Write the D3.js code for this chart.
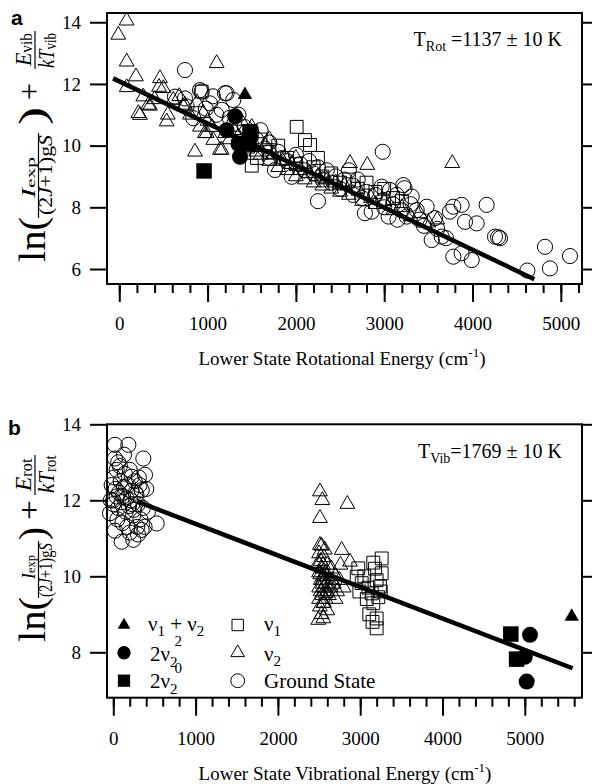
<!DOCTYPE html>
<html>
<head>
<meta charset="utf-8">
<script src="https://cdn.jsdelivr.net/npm/d3@7"></script>
<style>
  body { margin: 0; background: #fff; }
  svg { display: block; }
  svg text { font-family: "Liberation Serif", "Times New Roman", serif; fill: #000; }
  svg text.letter { font-family: "Liberation Sans", Arial, sans-serif; font-weight: bold; }
</style>
</head>
<body>
<div id="chart"></div>
<script>
const W = 592, H = 784

// ---- panel a: ln(...) + Evib/kTvib vs lower state rotational energy (cm-1)
const groundA = [
  [744,12.45],[914,11.8],[1216,11.7],[631,11.59],[763,11.27],[838,10.89],[1027,11.37],[1160,11.16],
  [1291,11.48],[933,11.75],[1197,11.7],[744,11.53],[1060,11.6],[1100,11.0],[1250,10.9],[980,11.2],
  [1350,11.0],[1300,10.7],[1420,10.6],[1480,10.3],[1550,10.2],[1600,10.5],[1650,9.9],[1700,10.1],
  [1763,9.21],[1800,9.8],[1850,9.6],[1900,9.5],[1952,8.99],[2000,9.7],[2050,9.4],[2100,9.2],
  [2150,9.5],[2200,9.1],[2250,9.3],[2300,8.9],[2350,9.2],[2400,8.8],[2450,9.0],[2500,8.6],
  [2550,8.9],[2600,9.2],[2650,8.7],[2700,8.9],[1700,9.6],[2250,8.2],[2782,7.81],[2858,7.86],
  [2990,8.24],[3066,8.56],[3141,8.4],[2971,8.67],[3216,8.72],[3230,8.62],[3311,8.35],[3783,8.02],
  [3877,8.08],[3745,7.86],[3915,7.53],[4047,7.48],[4160,8.08],[4255,7.05],[4311,7.0],[4290,7.03],
  [4821,6.72],[5104,6.42],[4877,6.02],[4621,5.95],[3538,6.94],[3651,7.05],[3783,6.4],[3877,6.51],
  [3991,6.29],[3481,8.02],[3575,7.65],[3255,7.7],[3368,7.91],[2983,9.8],[2900,8.4],[3000,8.0],
  [3100,8.1],[3200,7.9],[3400,7.6],[3450,7.4],[3300,8.1],[3600,7.3],[3700,7.0],[2800,8.5],
  [2750,8.3],[2650,8.4],[3050,7.7],[3150,7.6]
]
const nu2A = [
  [83,14.05],[-11,13.59],[84,12.72],[189,12.24],[84,11.89],[272,11.59],[348,11.29],[234,10.99],
  [461,12.18],[498,11.86],[537,10.78],[857,9.8],[1103,12.67],[725,11.27],[611,11.48],[951,11.05],
  [1140,9.86],[990,10.4],[914,10.61],[1065,10.18],[216,11.05],[329,11.32],[744,11.32],[970,10.4],
  [1160,9.86],[450,11.9],[400,11.5],[550,11.0],[680,11.6],[800,11.0],[880,11.4],[1000,10.8],
  [1050,10.6],[1200,10.4],[1250,10.2],[1300,10.5],[1350,10.3],[1400,10.1],[1450,9.9],[1500,10.2],
  [1550,9.8],[1600,9.7],[1650,10.0],[1700,9.5],[1750,9.7],[1800,9.3],[1850,9.5],[1900,9.2],
  [1950,9.4],[2000,9.0],[2050,9.2],[2100,8.9],[2150,9.1],[2200,8.8],[2250,9.0],[2300,8.7],
  [2350,8.9],[2400,8.6],[2450,8.8],[2500,8.5],[2613,9.43],[2809,9.37],[3771,9.43],[2550,8.7],
  [2600,8.4],[2700,8.6],[2750,8.2],[2850,8.3],[2900,8.1],[3000,8.2],[3100,7.9],[3200,8.0],
  [3300,7.7],[3400,7.8],[3500,7.5],[3600,7.6],[1380,10.8],[1500,10.6],[1700,10.2],[2000,9.6]
]
const nu1A = [
  [933,11.75],[2009,10.61],[2103,10.18],[2160,10.02],[1500,10.4],[1600,10.2],[1700,9.8],[1800,10.0],
  [1900,9.6],[2000,9.4],[2200,9.3],[2300,9.0],[2400,9.1],[2500,8.8],[2600,8.9],[2700,8.6],
  [2800,8.8],[2900,8.5],[3000,8.6],[3100,8.3],[3200,8.2],[1400,10.1],[2250,9.6],[1500,9.35],[1560,9.6]
]
const comboA = [[1423,11.65]]                                       // v1 + v2
const twoNu2cA = [[1311,10.95],[1216,10.5],[1367,9.64],[1350,10.05]] // 2v2 (l=2)
const twoNu2sA = [[960,9.18],[1480,10.45],[1470,10.05]]              // 2v2 (l=0)
const fitA = [[-70,12.18],[4700,5.67]]

// ---- panel b: ln(...) + Erot/kTrot vs lower state vibrational energy (cm-1)
const groundB = [
  [20,13.46],[183,13.46],[365,13.1],[385,12.67],[20,13.1],[41,12.8],[224,12.62],[345,12.27],
  [527,11.39],[345,11.22],[243,10.96],[102,10.91],[20,11.2],[-40,11.66],[0,12.0],[30,12.3],
  [60,11.8],[90,12.5],[120,12.1],[150,11.7],[180,12.4],[210,12.0],[240,11.6],[270,12.2],
  [300,11.9],[330,11.5],[10,12.6],[50,11.5],[80,12.9],[110,11.4],[140,12.7],[170,11.3],
  [200,12.8],[230,11.9],[260,12.5],[290,11.3],[320,12.4],[0,11.9],[40,12.1],[70,12.2],
  [100,11.95],[130,12.35],[160,12.05],[190,11.85],[220,12.25],[250,11.75],[280,12.15],[310,12.6],
  [360,11.8],[400,12.3],[420,11.7],[380,11.3],[300,11.1],[200,11.15],[60,13.0],[130,13.2],
  [-20,12.4],[-30,12.0]
]
const nu2B = [
  [2511,12.23],[2540,12.0],[2844,11.9],[2511,11.53],[2511,10.82],[2775,10.69],[2876,10.38],[2552,8.89],
  [2491,8.85],[2552,9.29],[2500,10.6],[2520,10.4],[2540,10.2],[2560,10.0],[2580,9.8],[2600,10.3],
  [2520,9.9],[2500,9.7],[2540,9.5],[2560,9.3],[2580,10.1],[2600,9.6],[2620,9.9],[2500,10.1],
  [2520,9.6],[2540,9.9],[2560,10.5],[2580,9.4],[2600,9.1],[2620,9.5],[2640,9.7],[2660,9.9],
  [2700,10.0],[2680,9.8],[2720,9.6],[2750,9.9],[2500,9.4],[2510,9.2],[2530,9.0],[2550,10.3],
  [2570,10.7],[2590,10.0],[2610,9.75],[2490,10.35],[2650,10.2],[2800,9.7],[2760,10.3],[2700,9.4],
  [2530,10.8],[2560,9.7],[2580,9.55],[2515,10.05],[2545,9.8]
]
const nu1B = [
  [3261,10.47],[3159,10.36],[2977,10.21],[3261,10.08],[2957,9.99],[3240,9.73],[3140,9.55],[3159,9.29],
  [3200,8.89],[3200,8.63],[3110,9.0],[3018,9.82],[3050,10.0],[3100,9.7],[3200,9.9],[3250,9.6],
  [3180,10.2],[3080,9.4],[3150,8.8],[3220,9.45],[2990,9.6]
]
const comboB = [[5570,8.94]]
const twoNu2cB = [[5063,8.46],[5000,7.88],[5023,7.23]]
const twoNu2sB = [[4830,8.48],[4900,7.82]]
const fitB = [[300,11.96],[5580,7.58]]

const xMajor = [0, 1000, 2000, 3000, 4000, 5000]
const xMinorA = d3.range(0, 5201, 200)
const xMinorB = d3.range(0, 5601, 200)
const yTicksA = [6, 8, 10, 12, 14]
const yTicksB = [8, 10, 12, 14]

const svg = d3.select("#chart").append("svg").attr("width", W).attr("height", H)

function sub(t) { return { t, sub: true } }
function it(t) { return { t, i: true } }

// rotated text piece, stretched along the text direction to span image y0 -> y1
function fitPiece(parent, parts, size, y0, y1, baseX, subShift = 0.22) {
  const t = parent.append("text").attr("font-size", size)
  let shifted = false
  parts.forEach(p => {
    if (typeof p === "string") p = { t: p }
    const s = t.append("tspan").text(p.t)
    if (p.i) s.attr("font-style", "italic")
    if (p.sub) {
      s.attr("font-size", size * 0.7)
      if (!shifted) { s.attr("dy", size * subShift); shifted = true }
    } else if (shifted) { s.attr("dy", -size * subShift); shifted = false }
  })
  const bb = t.node().getBBox()
  const sx = (y0 - y1) / bb.width
  t.attr("transform", `translate(${-y0},${baseX}) scale(${sx},1) translate(${-bb.x},0)`)
}

function yLabel(spec, kind) {
  const g = svg.append("g").attr("transform", "rotate(-90)")
  fitPiece(g, ["ln("], 38, spec.ln[0], spec.ln[1], 45)
  fitPiece(g, [it("I"), sub("exp")], 18, spec.num[0], spec.num[1], 34.5, 0.04)
  g.append("line").attr("x1", -spec.bar[0]).attr("x2", -spec.bar[1])
    .attr("y1", 38.5).attr("y2", 38.5).attr("stroke", "#000").attr("stroke-width", 1.2)
  fitPiece(g, ["(2", it("J"), "+1)g", it("S")], 18, spec.den[0], spec.den[1], 52)
  fitPiece(g, [")"], 38, spec.close[0], spec.close[1], 45)
  fitPiece(g, ["+"], 32, spec.plus[0], spec.plus[1], 40)
  fitPiece(g, [it("E"), sub(kind)], 23, spec.num2[0], spec.num2[1], 31, 0.04)
  g.append("line").attr("x1", -spec.bar2[0]).attr("x2", -spec.bar2[1])
    .attr("y1", 35).attr("y2", 35).attr("stroke", "#000").attr("stroke-width", 1.2)
  fitPiece(g, [it("kT"), sub(kind)], 23, spec.den2[0], spec.den2[1], 53.5, 0.12)
}

function drawPanel(p) {
  const x = d3.scaleLinear().domain(p.xDomain).range([p.left, p.right])
  const y = d3.scaleLinear().domain(p.yDomain).range([p.bottom, p.top])
  const g = svg.append("g")

  g.append("g").attr("transform", `translate(0,${p.bottom})`)
    .call(d3.axisBottom(x).tickValues(p.xMinor).tickSize(9).tickFormat(""))
  g.append("g").attr("transform", `translate(0,${p.bottom})`)
    .call(d3.axisBottom(x).tickValues(xMajor).tickSize(18).tickPadding(p.xPad).tickFormat(d3.format("d")))
    .attr("font-size", 19)
  g.append("g").attr("transform", `translate(${p.left},0)`)
    .call(d3.axisLeft(y).tickValues(p.yTicks).tickSize(17).tickPadding(9).tickFormat(d3.format("d")))
    .attr("font-size", 19)
  g.append("g").attr("transform", `translate(${p.right},0)`)
    .call(d3.axisRight(y).tickValues(p.yTicks).tickSize(17).tickFormat(""))
  g.selectAll(".domain").remove()
  g.selectAll(".tick line").attr("stroke", "#000").attr("stroke-width", 2)

  g.append("rect").attr("x", p.left).attr("y", p.top)
    .attr("width", p.right - p.left).attr("height", p.bottom - p.top)
    .attr("fill", "none").attr("stroke", "#000").attr("stroke-width", 2)

  const plot = (data, type, size, filled) => {
    g.append("g").selectAll("path").data(data).join("path")
      .attr("transform", d => `translate(${x(d[0])},${y(d[1])})`)
      .attr("d", d3.symbol().type(type).size(size)())
      .attr("fill", filled ? "#000" : "none")
      .attr("stroke", filled ? "none" : "#000")
      .attr("stroke-width", 1)
  }
  plot(p.ground, d3.symbolCircle, 180, false)
  plot(p.nu2, d3.symbolTriangle, 95, false)
  plot(p.nu1, d3.symbolSquare, 165, false)

  g.append("path").datum(p.fit)
    .attr("d", d3.line().x(d => x(d[0])).y(d => y(d[1])))
    .attr("stroke", "#000").attr("stroke-width", 4.5).attr("fill", "none")

  plot(p.combo, d3.symbolTriangle, 90, true)
  plot(p.twoC, d3.symbolCircle, 200, true)
  plot(p.twoS, d3.symbolSquare, 240, true)

  // temperature annotation
  const ann = g.append("text").attr("x", 562).attr("y", p.annY)
    .attr("text-anchor", "end").attr("font-size", 20)
  ann.append("tspan").text("T")
  ann.append("tspan").text(p.annSub).attr("font-size", 14).attr("dy", 5)
  ann.append("tspan").text(p.annText).attr("dy", -5)

  // x axis title
  const xt = g.append("text").attr("x", p.xTitleX).attr("y", p.xTitleY)
    .attr("text-anchor", "middle").attr("font-size", 19)
  xt.append("tspan").text(p.xTitle + " (cm")
  xt.append("tspan").text("-1").attr("font-size", 13).attr("dy", -8)
  xt.append("tspan").text(")").attr("dy", 8)

  // panel letter
  g.append("text").attr("class", "letter").attr("x", p.letterX).attr("y", p.letterY)
    .text(p.letter).attr("font-size", 21)

  yLabel(p.yl, p.kind)
}

drawPanel({
  left: 107, right: 582, top: 13, bottom: 284,
  xDomain: [-139, 5240], yDomain: [5.514, 14.3],
  xMinor: xMinorA, yTicks: yTicksA, xPad: 15,
  ground: groundA, nu2: nu2A, nu1: nu1A, combo: comboA, twoC: twoNu2cA, twoS: twoNu2sA, fit: fitA,
  annY: 46, annSub: "Rot", annText: " =1137 ± 10 K",
  xTitle: "Lower State Rotational Energy", xTitleX: 342, xTitleY: 365,
  letter: "a", letterX: 11, letterY: 25, kind: "vib",
  yl: { ln: [262, 217], num: [200, 157], bar: [218, 133], den: [215, 135], close: [125, 107],
        plus: [100, 83], num2: [67, 33], bar2: [69, 31], den2: [68, 33] }
})

drawPanel({
  left: 107, right: 582, top: 424.3, bottom: 697.7,
  xDomain: [-76.5, 5695], yDomain: [6.805, 14],
  xMinor: xMinorB, yTicks: yTicksB, xPad: 16,
  ground: groundB, nu2: nu2B, nu1: nu1B, combo: comboB, twoC: twoNu2cB, twoS: twoNu2sB, fit: fitB,
  annY: 458, annSub: "Vib", annText: "=1769 ± 10 K",
  xTitle: "Lower State Vibrational Energy", xTitleX: 345, xTitleY: 780,
  letter: "b", letterX: 8, letterY: 435, kind: "rot",
  yl: { ln: [642, 597], num: [580, 555], bar: [598, 541], den: [597, 543], close: [540, 527],
        plus: [520, 500], num2: [492, 458], bar2: [495, 455], den2: [493, 455] }
})

// legend (panel b)
const legendRows = [625, 652.7, 680.7]
const legendBase = [6, 8, 7]
const legendItems = [
  { col: 0, row: 0, type: d3.symbolTriangle, size: 70, filled: true },
  { col: 0, row: 1, type: d3.symbolCircle, size: 140, filled: true },
  { col: 0, row: 2, type: d3.symbolSquare, size: 150, filled: true },
  { col: 1, row: 0, type: d3.symbolSquare, size: 130, filled: false },
  { col: 1, row: 1, type: d3.symbolTriangle, size: 80, filled: false },
  { col: 1, row: 2, type: d3.symbolCircle, size: 150, filled: false }
]
const legMarkX = [124, 237.7], legTextX = [150, 264]
const leg = svg.append("g")
leg.selectAll("path").data(legendItems).join("path")
  .attr("transform", d => `translate(${legMarkX[d.col]},${legendRows[d.row]})`)
  .attr("d", d => d3.symbol().type(d.type).size(d.size)())
  .attr("fill", d => d.filled ? "#000" : "none")
  .attr("stroke", d => d.filled ? "none" : "#000").attr("stroke-width", 1)

function legText(col, row, build) {
  const t = leg.append("text").attr("x", legTextX[col] - (row === 0 && col === 0 ? 2 : 0))
    .attr("y", legendRows[row] + legendBase[row]).attr("font-size", 21)
  build(t)
}
legText(0, 0, t => {
  t.append("tspan").text("ν")
  t.append("tspan").text("1").attr("font-size", 15).attr("dy", 5)
  t.append("tspan").text(" +  ν").attr("dy", -5)
  t.append("tspan").text("2").attr("font-size", 15).attr("dy", 5)
})
legText(0, 1, t => {
  t.append("tspan").text("2ν")
  t.append("tspan").text("2").attr("font-size", 15).attr("dy", 6)
  t.append("tspan").text("2").attr("font-size", 15).attr("dx", -3).attr("dy", -21)
})
legText(0, 2, t => {
  t.append("tspan").text("2ν")
  t.append("tspan").text("2").attr("font-size", 15).attr("dy", 6)
  t.append("tspan").text("0").attr("font-size", 15).attr("dx", -3).attr("dy", -21)
})
legText(1, 0, t => {
  t.append("tspan").text("ν")
  t.append("tspan").text("1").attr("font-size", 15).attr("dy", 5)
})
legText(1, 1, t => {
  t.append("tspan").text("ν")
  t.append("tspan").text("2").attr("font-size", 15).attr("dy", 5)
})
legText(1, 2, t => { t.text("Ground State") })
</script>
</body>
</html>
